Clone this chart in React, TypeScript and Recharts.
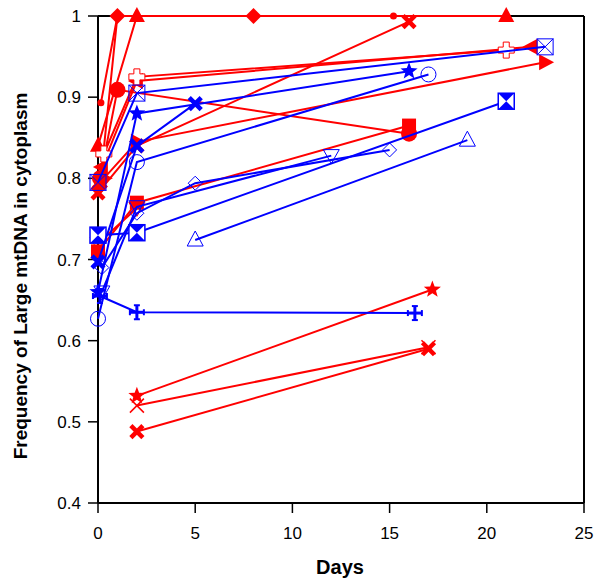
import React from "react";
import { ScatterChart, Scatter, XAxis, YAxis, ReferenceLine, Label } from "recharts";

const RED = "#ff0000";
const BLUE = "#0000ff";

// tick labels
const xTicks = [0, 5, 10, 15, 20, 25];
const xMinorTicks = [0, 1, 2, 3, 4, 5, 6, 7, 8, 9, 10, 11, 12, 13, 14, 15, 16, 17, 18, 19, 20, 21, 22, 23, 24, 25];
const yTicks = [0.4, 0.5, 0.6, 0.7, 0.8, 0.9, 1];
const yMinorTicks = [0.4, 0.425, 0.45, 0.475, 0.5, 0.525, 0.55, 0.575, 0.6, 0.625, 0.65, 0.675, 0.7, 0.725, 0.75, 0.775, 0.8, 0.825, 0.85, 0.875, 0.9, 0.925, 0.95, 0.975, 1];

// red series (days / frequency)
const rDotDays = [0.15, 1, 15.2];
const rDotVals = [0.893, 1.0, 1.0];
const rDiamondDays = [0.1, 1, 8];
const rDiamondVals = [0.79, 1.0, 1.0];
const rTriUpDays = [0, 2, 21];
const rTriUpVals = [0.84, 1.0, 1.0];
const rCircleDays = [0.1, 1, 16];
const rCircleVals = [0.8, 0.909, 0.855];
const rSquareDays = [0, 2, 16];
const rSquareVals = [0.71, 0.77, 0.865];
const rTriLeftDays = [0.2, 2, 22.3];
const rTriLeftVals = [0.814, 0.92, 0.962];
const rTriRightDays = [0.3, 2, 23];
const rTriRightVals = [0.8, 0.845, 0.943];
const rBoldXDays = [0, 2, 16];
const rBoldXVals = [0.782, 0.84, 0.993];
const rPlusDays = [0.3, 2, 21];
const rPlusVals = [0.83, 0.925, 0.958];
const rDownTriDays = [0, 2];
const rDownTriVals = [0.72, 0.763];
const rStarDays = [2, 17.2];
const rStarVals = [0.532, 0.663];
const rThinXDays = [2, 17];
const rThinXVals = [0.52, 0.592];
const rBoldX2Days = [2, 17];
const rBoldX2Vals = [0.488, 0.59];

// blue series
const bBoxOpenDays = [0, 2, 23];
const bBoxOpenVals = [0.795, 0.905, 0.962];
const bBoxFillDays = [0, 2, 21];
const bBoxFillVals = [0.73, 0.733, 0.895];
const bStarDays = [0, 2, 16];
const bStarVals = [0.66, 0.88, 0.932];
const bCircleDays = [0, 2, 17];
const bCircleVals = [0.627, 0.82, 0.928];
const bBoldXDays = [0, 2, 5];
const bBoldXVals = [0.697, 0.84, 0.892];
const bDiamondDays = [0.2, 2, 5, 15];
const bDiamondVals = [0.69, 0.757, 0.794, 0.835];
const bDownTriDays = [0.2, 2, 12];
const bDownTriVals = [0.66, 0.765, 0.828];
const bUpTriDays = [5, 19];
const bUpTriVals = [0.724, 0.847];
const bCrossDays = [0.1, 2, 16.3];
const bCrossVals = [0.655, 0.635, 0.634];

const pts = (xs: number[], ys: number[]) => xs.map((x, i) => ({ x, y: ys[i] }));

const series = [
  { key: "rDot", data: pts(rDotDays, rDotVals), color: RED, kind: "dot" },
  { key: "rDiamond", data: pts(rDiamondDays, rDiamondVals), color: RED, kind: "diamond" },
  { key: "rTriUp", data: pts(rTriUpDays, rTriUpVals), color: RED, kind: "triUp" },
  { key: "rCircle", data: pts(rCircleDays, rCircleVals), color: RED, kind: "circle" },
  { key: "rSquare", data: pts(rSquareDays, rSquareVals), color: RED, kind: "square" },
  { key: "rTriLeft", data: pts(rTriLeftDays, rTriLeftVals), color: RED, kind: "triLeft" },
  { key: "rTriRight", data: pts(rTriRightDays, rTriRightVals), color: RED, kind: "triRight" },
  { key: "rBoldX", data: pts(rBoldXDays, rBoldXVals), color: RED, kind: "boldX" },
  { key: "rPlus", data: pts(rPlusDays, rPlusVals), color: RED, kind: "openPlus" },
  { key: "rDownTri", data: pts(rDownTriDays, rDownTriVals), color: RED, kind: "openDownTri" },
  { key: "rStar", data: pts(rStarDays, rStarVals), color: RED, kind: "star" },
  { key: "rThinX", data: pts(rThinXDays, rThinXVals), color: RED, kind: "thinX" },
  { key: "rBoldX2", data: pts(rBoldX2Days, rBoldX2Vals), color: RED, kind: "boldX" },
  { key: "bBoxOpen", data: pts(bBoxOpenDays, bBoxOpenVals), color: BLUE, kind: "boxOpen" },
  { key: "bBoxFill", data: pts(bBoxFillDays, bBoxFillVals), color: BLUE, kind: "boxFill" },
  { key: "bStar", data: pts(bStarDays, bStarVals), color: BLUE, kind: "star" },
  { key: "bCircle", data: pts(bCircleDays, bCircleVals), color: BLUE, kind: "openCircle" },
  { key: "bBoldX", data: pts(bBoldXDays, bBoldXVals), color: BLUE, kind: "boldX" },
  { key: "bDiamond", data: pts(bDiamondDays, bDiamondVals), color: BLUE, kind: "openDiamond" },
  { key: "bDownTri", data: pts(bDownTriDays, bDownTriVals), color: BLUE, kind: "openDownTri" },
  { key: "bUpTri", data: pts(bUpTriDays, bUpTriVals), color: BLUE, kind: "openUpTri" },
  { key: "bCross", data: pts(bCrossDays, bCrossVals), color: BLUE, kind: "cross" },
];

function starPoints(cx: number, cy: number, ro: number, ri: number) {
  const p: string[] = [];
  for (let i = 0; i < 10; i++) {
    const r = i % 2 === 0 ? ro : ri;
    const a = -Math.PI / 2 + (i * Math.PI) / 5;
    p.push(`${cx + r * Math.cos(a)},${cy + r * Math.sin(a)}`);
  }
  return p.join(" ");
}

function Marker({ cx, cy, kind, color }: { cx: number; cy: number; kind: string; color: string }) {
  if (cx == null || cy == null) return null;
  switch (kind) {
    case "dot":
      return <circle cx={cx} cy={cy} r={3.5} fill={color} />;
    case "diamond":
      return <polygon points={`${cx},${cy - 8} ${cx + 8},${cy} ${cx},${cy + 8} ${cx - 8},${cy}`} fill={color} />;
    case "triUp":
      return <polygon points={`${cx},${cy - 9} ${cx + 8},${cy + 6} ${cx - 8},${cy + 6}`} fill={color} />;
    case "triLeft":
      return <polygon points={`${cx - 9},${cy} ${cx + 6},${cy - 8} ${cx + 6},${cy + 8}`} fill={color} />;
    case "triRight":
      return <polygon points={`${cx + 9},${cy} ${cx - 6},${cy - 8} ${cx - 6},${cy + 8}`} fill={color} />;
    case "circle":
      return <circle cx={cx} cy={cy} r={8} fill={color} />;
    case "square":
      return <rect x={cx - 7} y={cy - 7} width={14} height={14} fill={color} />;
    case "boldX":
      return (
        <g stroke={color} strokeWidth={4.5}>
          <line x1={cx - 6} y1={cy - 6} x2={cx + 6} y2={cy + 6} />
          <line x1={cx - 6} y1={cy + 6} x2={cx + 6} y2={cy - 6} />
        </g>
      );
    case "thinX":
      return (
        <g stroke={color} strokeWidth={1.5}>
          <line x1={cx - 7} y1={cy - 7} x2={cx + 7} y2={cy + 7} />
          <line x1={cx - 7} y1={cy + 7} x2={cx + 7} y2={cy - 7} />
        </g>
      );
    case "openPlus":
      return (
        <polygon
          points={`${cx - 3},${cy - 8} ${cx + 3},${cy - 8} ${cx + 3},${cy - 3} ${cx + 8},${cy - 3} ${cx + 8},${cy + 3} ${cx + 3},${cy + 3} ${cx + 3},${cy + 8} ${cx - 3},${cy + 8} ${cx - 3},${cy + 3} ${cx - 8},${cy + 3} ${cx - 8},${cy - 3} ${cx - 3},${cy - 3}`}
          fill="#fff"
          stroke={color}
          strokeWidth={1}
        />
      );
    case "openDownTri":
      return <polygon points={`${cx},${cy + 8} ${cx + 8},${cy - 6} ${cx - 8},${cy - 6}`} fill="none" stroke={color} strokeWidth={1} />;
    case "openUpTri":
      return <polygon points={`${cx},${cy - 9} ${cx + 8},${cy + 6} ${cx - 8},${cy + 6}`} fill="none" stroke={color} strokeWidth={1} />;
    case "openDiamond":
      return <polygon points={`${cx},${cy - 7} ${cx + 7},${cy} ${cx},${cy + 7} ${cx - 7},${cy}`} fill="none" stroke={color} strokeWidth={1} />;
    case "openCircle":
      return <circle cx={cx} cy={cy} r={7.5} fill="none" stroke={color} strokeWidth={1} />;
    case "star":
      return <polygon points={starPoints(cx, cy, 9, 3.8)} fill={color} />;
    case "boxOpen":
      return (
        <g stroke={color} strokeWidth={1} fill="none">
          <rect x={cx - 8} y={cy - 8} width={16} height={16} />
          <line x1={cx - 8} y1={cy - 8} x2={cx + 8} y2={cy + 8} />
          <line x1={cx - 8} y1={cy + 8} x2={cx + 8} y2={cy - 8} />
        </g>
      );
    case "boxFill":
      return (
        <g>
          <rect x={cx - 8} y={cy - 8} width={16} height={16} fill="#fff" stroke={color} strokeWidth={1.5} />
          <polygon points={`${cx - 8},${cy - 8} ${cx + 8},${cy - 8} ${cx},${cy}`} fill={color} />
          <polygon points={`${cx - 8},${cy + 8} ${cx + 8},${cy + 8} ${cx},${cy}`} fill={color} />
        </g>
      );
    case "cross":
      return (
        <g stroke={color} strokeWidth={3}>
          <line x1={cx - 7} y1={cy} x2={cx + 7} y2={cy} />
          <line x1={cx} y1={cy - 7} x2={cx} y2={cy + 7} />
          <line x1={cx - 7} y1={cy - 3} x2={cx - 7} y2={cy + 3} strokeWidth={2} />
          <line x1={cx + 7} y1={cy - 3} x2={cx + 7} y2={cy + 3} strokeWidth={2} />
          <line x1={cx - 3} y1={cy - 7} x2={cx + 3} y2={cy - 7} strokeWidth={2} />
          <line x1={cx - 3} y1={cy + 7} x2={cx + 3} y2={cy + 7} strokeWidth={2} />
        </g>
      );
    default:
      return null;
  }
}

const FONT = "Liberation Sans, Arial, sans-serif";
const tickFont = { fontFamily: FONT, fontSize: 17, fill: "#000" };
const noLabel = () => <g />;

export default function App() {
  return (
    <div style={{ position: "absolute", left: 0, top: 0, background: "#fff" }}>
      <ScatterChart width={600} height={587} margin={{ top: 16, right: 16, bottom: 44, left: 0 }}>
        {/* minor tick axes first so they sit on the plot edge */}
        <XAxis
          xAxisId="xm"
          type="number"
          dataKey="x"
          domain={[0, 25]}
          ticks={xMinorTicks}
          height={0}
          tickSize={5}
          tick={noLabel}
          axisLine={false}
          stroke="#000"
          tickLine={{ stroke: "#000", strokeWidth: 1 }}
        />
        <YAxis
          yAxisId="ym"
          type="number"
          dataKey="y"
          domain={[0.4, 1]}
          ticks={yMinorTicks}
          width={0}
          tickSize={5}
          tick={noLabel}
          axisLine={false}
          stroke="#000"
          tickLine={{ stroke: "#000", strokeWidth: 1 }}
        />
        <XAxis
          xAxisId="x"
          type="number"
          dataKey="x"
          domain={[0, 25]}
          ticks={xTicks}
          height={40}
          tickSize={10}
          tickMargin={14}
          stroke="#000"
          axisLine={{ stroke: "#000", strokeWidth: 2 }}
          tickLine={{ stroke: "#000", strokeWidth: 1.5 }}
          tick={tickFont}
        >
          <Label
            content={() => (
              <text x={340} y={574} textAnchor="middle" fontFamily={FONT} fontSize={20} fontWeight="bold" fill="#000">
                Days
              </text>
            )}
          />
        </XAxis>
        <YAxis
          yAxisId="y"
          type="number"
          dataKey="y"
          domain={[0.4, 1]}
          ticks={yTicks}
          width={98}
          tickSize={10}
          tickMargin={7}
          stroke="#000"
          axisLine={{ stroke: "#000", strokeWidth: 2 }}
          tickLine={{ stroke: "#000", strokeWidth: 1.5 }}
          tick={tickFont}
        >
          <Label
            content={() => (
              <text
                x={20}
                y={276}
                transform="rotate(-90 20 276)"
                textAnchor="middle"
                dominantBaseline="central"
                fontFamily={FONT}
                fontSize={19}
                fontWeight="bold"
                fill="#000"
              >
                Frequency of Large mtDNA in cytoplasm
              </text>
            )}
          />
        </YAxis>
        <ReferenceLine xAxisId="x" yAxisId="y" y={1} stroke="#000" strokeWidth={2} />
        <ReferenceLine xAxisId="x" yAxisId="y" x={25} stroke="#000" strokeWidth={2} />
        {series.map((s) => (
          <Scatter
            key={s.key}
            xAxisId="x"
            yAxisId="y"
            data={s.data}
            fill={s.color}
            line={{ stroke: s.color, strokeWidth: 2 }}
            lineType="joint"
            isAnimationActive={false}
            shape={(p: any) => <Marker cx={p.cx} cy={p.cy} kind={s.kind} color={s.color} />}
          />
        ))}
      </ScatterChart>
    </div>
  );
}
